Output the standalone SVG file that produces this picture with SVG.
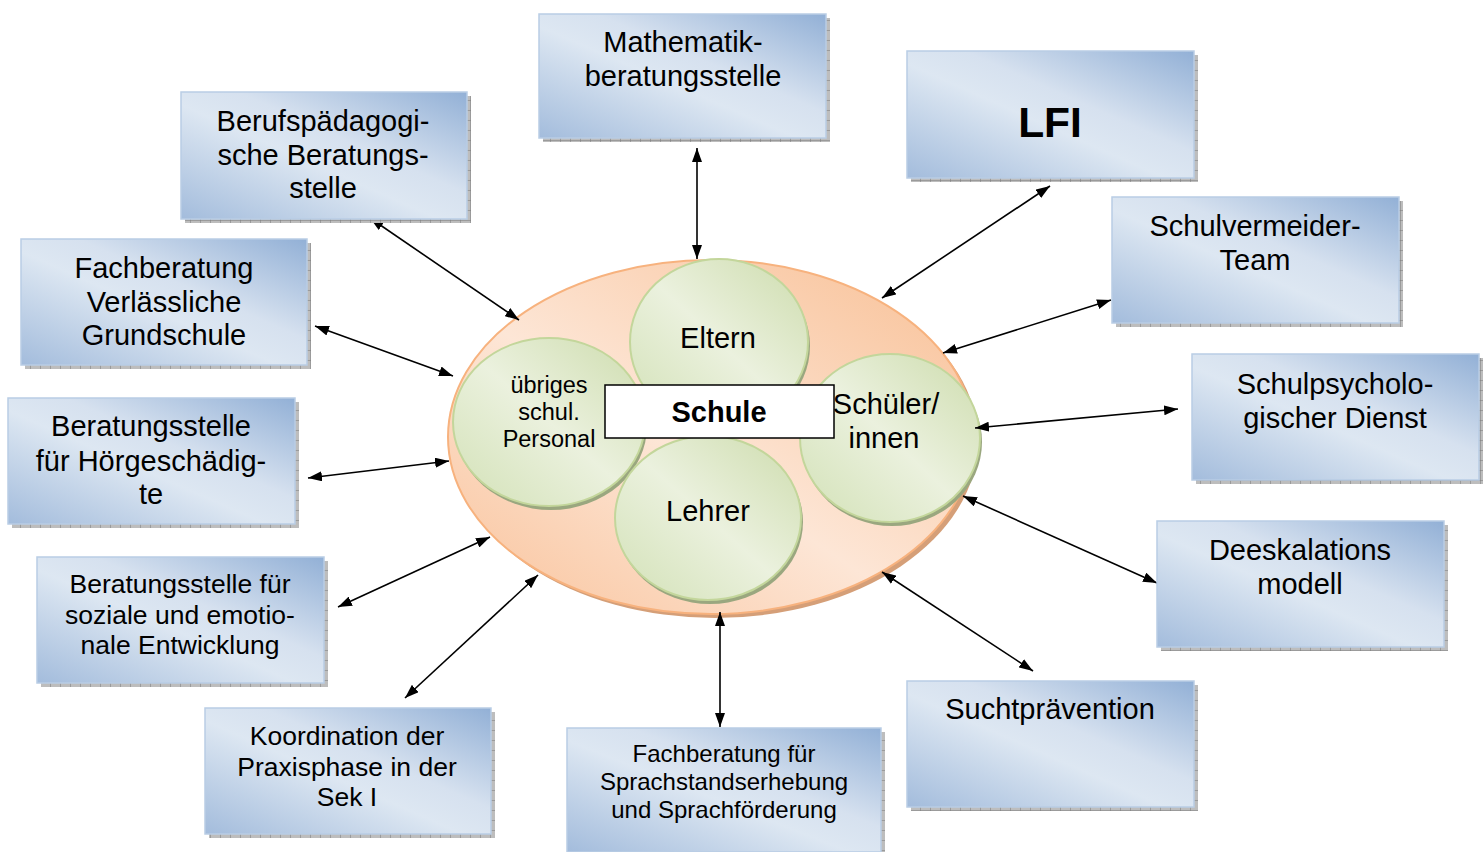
<svg xmlns="http://www.w3.org/2000/svg" width="1483" height="852" viewBox="0 0 1483 852">
<defs>
<linearGradient id="gBox" x1="0" y1="1" x2="1" y2="0">
<stop offset="0" stop-color="#a3bcdc"/>
<stop offset="0.45" stop-color="#dde7f2"/>
<stop offset="0.6" stop-color="#d6e1ef"/>
<stop offset="1" stop-color="#92b0d6"/>
</linearGradient>
<linearGradient id="gOr" x1="0" y1="1" x2="1" y2="0">
<stop offset="0" stop-color="#f9c29a"/>
<stop offset="0.45" stop-color="#fde6d6"/>
<stop offset="1" stop-color="#f8bf94"/>
</linearGradient>
<linearGradient id="gGr" x1="0" y1="1" x2="1" y2="0">
<stop offset="0" stop-color="#d2e1b6"/>
<stop offset="0.5" stop-color="#ebf1de"/>
<stop offset="1" stop-color="#cddcad"/>
</linearGradient>
<pattern id="hatch" width="10" height="10" patternUnits="userSpaceOnUse">
<rect width="10" height="10" fill="#bdbdbd"/>
<path d="M0,0 V10 M0,0 H10" stroke="#7a7a7a" stroke-width="1"/>
</pattern>
<marker id="ah" viewBox="0 0 14 10" refX="14" refY="5" markerWidth="14" markerHeight="10" markerUnits="userSpaceOnUse" orient="auto-start-reverse">
<path d="M0,0 L14,5 L0,10 z" fill="#000"/>
</marker>
</defs>
<style>
.sh{fill:url(#hatch)}
.box{fill:url(#gBox);stroke:#b9cde5;stroke-width:1.5}
.t{font-family:"Liberation Sans",Arial,sans-serif;fill:#000;text-anchor:middle}
.f29{font-size:29px}
.f26{font-size:26.5px}
.f24{font-size:24px}
.fc{font-size:23.5px}
.b{font-weight:bold}
.cir{fill:url(#gGr);stroke:#c3d69b;stroke-width:2}
.csh{fill:#9aa77f}
.con line{stroke:#000;stroke-width:1.6;marker-start:url(#ah);marker-end:url(#ah)}
</style>
<rect width="1483" height="852" fill="#fff"/>

<g id="schule">
<ellipse cx="715" cy="441" rx="263" ry="177" fill="#d59f78"/>
<ellipse cx="711" cy="437" rx="263" ry="177" fill="url(#gOr)" stroke="#f7b27e" stroke-width="2"/>
<g id="uebriges">
<ellipse cx="551" cy="426" rx="96" ry="84" class="csh"/>
<ellipse cx="549" cy="422" rx="96" ry="84" class="cir"/>
<text class="t fc" x="549" y="393">übriges</text>
<text class="t fc" x="549" y="420">schul.</text>
<text class="t fc" x="549" y="447">Personal</text>
</g>
<g id="eltern">
<ellipse cx="721" cy="346" rx="89" ry="83" class="csh"/>
<ellipse cx="719" cy="342" rx="89" ry="83" class="cir"/>
<text class="t f29" x="718" y="348">Eltern</text>
</g>
<g id="schueler">
<ellipse cx="892" cy="442" rx="90" ry="84" class="csh"/>
<ellipse cx="890" cy="438" rx="90" ry="84" class="cir"/>
<text class="t f29" x="886" y="414">Schüler/</text>
<text class="t f29" x="884" y="448">innen</text>
</g>
<g id="lehrer">
<ellipse cx="710" cy="522" rx="93" ry="82" class="csh"/>
<ellipse cx="708" cy="518" rx="93" ry="82" class="cir"/>
<text class="t f29" x="708" y="521">Lehrer</text>
</g>
<g id="schule-label">
<rect x="605" y="385" width="229" height="53" fill="#fff" stroke="#000" stroke-width="1.5"/>
<text class="t f29 b" x="719" y="422">Schule</text>
</g>
</g>

<g id="connectors" class="con">
<line x1="697" y1="148" x2="697" y2="259"/>
<line x1="1050" y1="186" x2="882" y2="298"/>
<line x1="370" y1="218" x2="519" y2="320"/>
<line x1="1111" y1="300" x2="943" y2="353"/>
<line x1="315" y1="326" x2="453" y2="376"/>
<line x1="1178" y1="409" x2="975" y2="428"/>
<line x1="308" y1="478" x2="449" y2="461"/>
<line x1="1157" y1="583" x2="963" y2="496"/>
<line x1="338" y1="607" x2="490" y2="537"/>
<line x1="405" y1="698" x2="538" y2="575"/>
<line x1="720" y1="727" x2="720" y2="612"/>
<line x1="1033" y1="671" x2="882" y2="572"/>
</g>

<g id="mathe">
<rect x="543" y="18" width="287" height="124" class="sh"/>
<rect x="539" y="14" width="287" height="124" class="box"/>
<text class="t f29" x="683" y="52">Mathematik-</text>
<text class="t f29" x="683" y="86">beratungsstelle</text>
</g>
<g id="lfi">
<rect x="911" y="55" width="287" height="127" class="sh"/>
<rect x="907" y="51" width="287" height="127" class="box"/>
<text class="t b" style="font-size:42.5px" x="1050" y="137">LFI</text>
</g>
<g id="berufs">
<rect x="185" y="96" width="286" height="127" class="sh"/>
<rect x="181" y="92" width="286" height="127" class="box"/>
<text class="t f29" x="323" y="131">Berufspädagogi-</text>
<text class="t f29" x="323" y="165">sche Beratungs-</text>
<text class="t f29" x="323" y="198">stelle</text>
</g>
<g id="schulvermeider">
<rect x="1116" y="201" width="287" height="126" class="sh"/>
<rect x="1112" y="197" width="287" height="126" class="box"/>
<text class="t f29" x="1255" y="236">Schulvermeider-</text>
<text class="t f29" x="1255" y="270">Team</text>
</g>
<g id="fachvg">
<rect x="25" y="243" width="286" height="126" class="sh"/>
<rect x="21" y="239" width="286" height="126" class="box"/>
<text class="t f29" x="164" y="278">Fachberatung</text>
<text class="t f29" x="164" y="312">Verlässliche</text>
<text class="t f29" x="164" y="345">Grundschule</text>
</g>
<g id="schulpsych">
<rect x="1196" y="358" width="287" height="126" class="sh"/>
<rect x="1192" y="354" width="287" height="126" class="box"/>
<text class="t f29" x="1335" y="394">Schulpsycholo-</text>
<text class="t f29" x="1335" y="428">gischer Dienst</text>
</g>
<g id="hoer">
<rect x="12" y="402" width="287" height="126" class="sh"/>
<rect x="8" y="398" width="287" height="126" class="box"/>
<text class="t f29" x="151" y="436">Beratungsstelle</text>
<text class="t f29" x="151" y="471">für Hörgeschädig-</text>
<text class="t f29" x="151" y="504">te</text>
</g>
<g id="deeskalation">
<rect x="1161" y="525" width="287" height="126" class="sh"/>
<rect x="1157" y="521" width="287" height="126" class="box"/>
<text class="t f29" x="1300" y="560">Deeskalations</text>
<text class="t f29" x="1300" y="594">modell</text>
</g>
<g id="soziale">
<rect x="41" y="561" width="287" height="126" class="sh"/>
<rect x="37" y="557" width="287" height="126" class="box"/>
<text class="t f26" x="180" y="593">Beratungsstelle für</text>
<text class="t f26" x="180" y="624">soziale und emotio-</text>
<text class="t f26" x="180" y="654">nale Entwicklung</text>
</g>
<g id="sucht">
<rect x="911" y="685" width="287" height="126" class="sh"/>
<rect x="907" y="681" width="287" height="126" class="box"/>
<text class="t f29" x="1050" y="719">Suchtprävention</text>
</g>
<g id="koord">
<rect x="209" y="712" width="286" height="126" class="sh"/>
<rect x="205" y="708" width="286" height="126" class="box"/>
<text class="t f26" x="347" y="745">Koordination der</text>
<text class="t f26" x="347" y="776">Praxisphase in der</text>
<text class="t f26" x="347" y="806">Sek I</text>
</g>
<g id="sprach">
<rect x="571" y="732" width="314" height="124" class="sh"/>
<rect x="567" y="728" width="314" height="124" class="box"/>
<text class="t f24" x="724" y="762">Fachberatung für</text>
<text class="t f24" x="724" y="790">Sprachstandserhebung</text>
<text class="t f24" x="724" y="818">und Sprachförderung</text>
</g>
</svg>
